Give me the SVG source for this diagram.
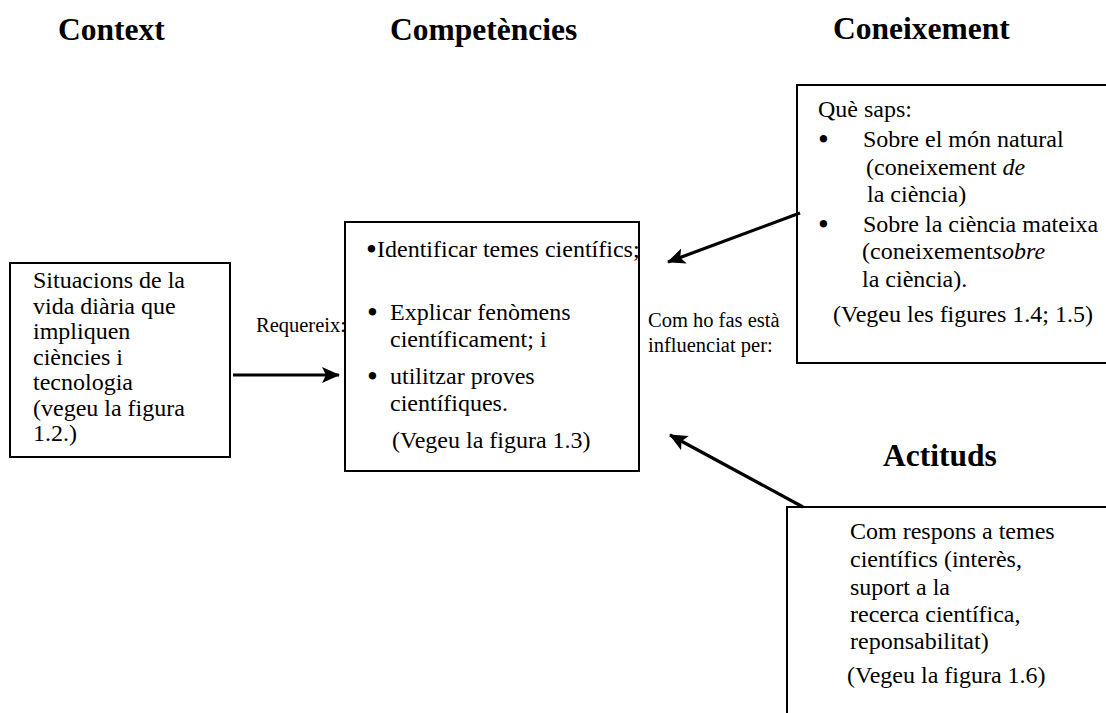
<svg xmlns="http://www.w3.org/2000/svg" width="1106" height="713" viewBox="0 0 1106 713">
<style>
  .h{font-family:"Liberation Serif","Times New Roman",serif;font-weight:bold;font-size:31.5px;fill:#000}
  .t{font-family:"Liberation Serif","Times New Roman",serif;font-size:24px;fill:#000}
  .b{font-family:"Liberation Serif","Times New Roman",serif;font-size:31px;fill:#000}
  .s{font-family:"Liberation Serif","Times New Roman",serif;font-size:20.5px;fill:#000}
  .box{fill:#fff;stroke:#000;stroke-width:2}
  .conn{fill:none;stroke:#000;stroke-width:3.2}
</style>
<defs>
  <marker id="ah" markerUnits="userSpaceOnUse" markerWidth="20" markerHeight="18" refX="17" refY="8" orient="auto" viewBox="0 0 20 16">
    <path d="M0,0 L18,8 L0,16 L4,8 z" fill="#000"/>
  </marker>
</defs>
<rect width="1106" height="713" fill="#fff"/>
<g id="headings">
  <text class="h" x="58" y="40">Context</text>
  <text class="h" x="390" y="40">Competències</text>
  <text class="h" x="833" y="39">Coneixement</text>
  <text class="h" x="883" y="466">Actituds</text>
</g>
<g id="context">
  <rect class="box" x="10" y="263" width="220" height="194"/>
  <text class="t" x="33" y="288">Situacions de la</text>
  <text class="t" x="33" y="313.5">vida diària que</text>
  <text class="t" x="33" y="339">impliquen</text>
  <text class="t" x="33" y="364.5">ciències i</text>
  <text class="t" x="33" y="390">tecnologia</text>
  <text class="t" x="33" y="415.5">(vegeu la figura</text>
  <text class="t" x="33" y="441">1.2.)</text>
</g>
<g id="labels">
  <text class="s" x="256" y="332">Requereix:</text>
  <text class="s" x="648" y="327">Com ho fas està</text>
  <text class="s" x="648" y="352">influenciat per:</text>
</g>
<g id="competencies">
  <rect class="box" x="345" y="222" width="294" height="249"/>
  <text class="b" x="366" y="259.5">•</text>
  <text class="t" x="377" y="257">Identificar temes científics;</text>
  <text class="b" x="367" y="322.5">•</text>
  <text class="t" x="390" y="320">Explicar fenòmens</text>
  <text class="t" x="390" y="347">científicament; i</text>
  <text class="b" x="367" y="386.5">•</text>
  <text class="t" x="390" y="384">utilitzar proves</text>
  <text class="t" x="390" y="411">científiques.</text>
  <text class="t" x="392" y="448">(Vegeu la figura 1.3)</text>
</g>
<g id="coneixement">
  <rect class="box" x="797" y="85" width="320" height="278"/>
  <text class="t" x="818" y="117">Què saps:</text>
  <text class="b" x="818" y="149.5">•</text>
  <text class="t" x="863" y="147">Sobre el món natural</text>
  <text class="t" x="866" y="175">(coneixement <tspan font-style="italic">de</tspan></text>
  <text class="t" x="867" y="202">la ciència)</text>
  <text class="b" x="818" y="234.5">•</text>
  <text class="t" x="863" y="232">Sobre la ciència mateixa</text>
  <text class="t" x="862" y="259">(coneixement<tspan font-style="italic">sobre</tspan></text>
  <text class="t" x="862" y="287">la ciència).</text>
  <text class="t" x="833" y="322">(Vegeu les figures 1.4; 1.5)</text>
</g>
<g id="actituds">
  <path d="M787,715 V507 H1110" fill="none" stroke="#000" stroke-width="2"/>
  <text class="t" x="850" y="539">Com respons a temes</text>
  <text class="t" x="850" y="567">científics (interès,</text>
  <text class="t" x="850" y="595">suport a la</text>
  <text class="t" x="850" y="622">recerca científica,</text>
  <text class="t" x="850" y="649">reponsabilitat)</text>
  <text class="t" x="847" y="683">(Vegeu la figura 1.6)</text>
</g>
<g id="connectors">
  <line class="conn" x1="233" y1="375" x2="339" y2="375" marker-end="url(#ah)"/>
  <line class="conn" x1="800" y1="213" x2="668" y2="262" marker-end="url(#ah)"/>
  <line class="conn" x1="803" y1="507" x2="670" y2="435" marker-end="url(#ah)"/>
</g>
</svg>
